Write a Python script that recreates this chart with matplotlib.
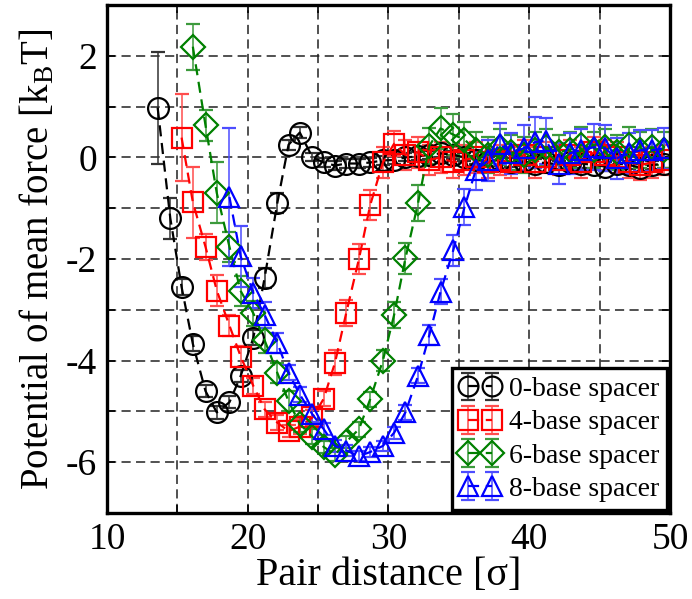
import matplotlib
matplotlib.use("Agg")
import matplotlib.pyplot as plt
from matplotlib.ticker import MultipleLocator

plt.rcParams['font.family'] = ['Liberation Serif', 'DejaVu Serif']
plt.rcParams['mathtext.fontset'] = 'custom'
plt.rcParams['mathtext.rm'] = 'Liberation Serif'
plt.rcParams['mathtext.it'] = 'Liberation Serif:italic'
plt.rcParams['axes.unicode_minus'] = False

# shared distance grid [sigma]
X = [13.6, 14.5, 15.3, 16.1, 17.0, 17.8, 18.7, 19.5, 20.4, 21.2, 22.1, 22.9,
     23.7, 24.6, 25.4, 26.2, 27.0, 27.9, 28.7, 29.6, 30.4, 31.2, 32.1, 32.9,
     33.7, 34.6, 35.4, 36.2, 37.1, 37.9, 38.7, 39.6, 40.4, 41.2, 42.1, 42.9,
     43.7, 44.6, 45.4, 46.2, 47.1, 47.9, 48.7, 49.6]

labels = ['0-base spacer', '4-base spacer', '6-base spacer', '8-base spacer']

y0 = [0.98, -1.2, -2.55, -3.67, -4.6, -5.02, -4.82, -4.3, -3.55, -2.37, -0.9, 0.25,
      0.49, 0.0, -0.1, -0.16, -0.12, -0.12, -0.1, -0.06, -0.05, 0.0, 0.02, 0.05,
      0.08, 0.05, 0.0, -0.05, -0.08, -0.05, -0.1, -0.08, -0.12, -0.1, -0.15, -0.1,
      -0.12, -0.15, -0.18, -0.12, -0.15, -0.2, -0.15, -0.12]
e0 = [1.1, 0.4, 0.15, 0.15, 0.12, 0.12, 0.12, 0.12, 0.15, 0.2, 0.2, 0.1,
      0.1, 0.08, 0.08, 0.08, 0.08, 0.08, 0.08, 0.08, 0.08, 0.08, 0.08, 0.08,
      0.08, 0.08, 0.08, 0.08, 0.08, 0.08, 0.08, 0.08, 0.08, 0.08, 0.08, 0.08,
      0.08, 0.08, 0.08, 0.08, 0.08, 0.08, 0.08, 0.08]

y4 = [0.39, -0.88, -1.76, -2.62, -3.31, -3.92, -4.5, -4.96, -5.22, -5.39, -5.3,
      -5.12, -4.75, -4.04, -3.06, -2.0, -0.94, -0.1, 0.27, 0.05, 0.1, -0.05,
      0.0, -0.1, -0.05, 0.0, -0.1, -0.05, -0.1, 0.05, -0.1, 0.0, -0.05, 0.05,
      -0.1, 0.1, 0.05, 0.0, -0.1, -0.15, -0.1, -0.05]
e4 = [0.85, 0.7, 0.25, 0.3, 0.2, 0.2, 0.15, 0.15, 0.15, 0.12, 0.15,
      0.15, 0.15, 0.25, 0.25, 0.3, 0.3, 0.3, 0.25, 0.3, 0.3, 0.3,
      0.3, 0.3, 0.3, 0.3, 0.3, 0.3, 0.3, 0.3, 0.3, 0.3, 0.3, 0.3,
      0.3, 0.3, 0.3, 0.3, 0.3, 0.3, 0.3, 0.3]

y6 = [2.18, 0.63, -0.7, -1.76, -2.63, -3.07, -3.6, -4.24, -4.8, -5.25, -5.5,
      -5.7, -5.85, -5.6, -5.35, -4.76, -4.0, -3.1, -1.99, -0.9, 0.23, 0.57,
      0.45, 0.35, 0.15, 0.05, 0.2, 0.1, 0.05, 0.15, 0.2, 0.1, 0.15, 0.25,
      0.15, 0.2, 0.1, 0.25, 0.15, 0.2, 0.15]
e6 = [0.45, 0.3, 0.6, 0.3, 0.3, 0.25, 0.25, 0.2, 0.2, 0.15, 0.15,
      0.12, 0.12, 0.12, 0.15, 0.15, 0.2, 0.25, 0.3, 0.35, 0.35, 0.4,
      0.4, 0.35, 0.35, 0.35, 0.35, 0.35, 0.35, 0.35, 0.35, 0.35, 0.35, 0.35,
      0.35, 0.35, 0.35, 0.35, 0.35, 0.35, 0.35]

y8 = [-0.78, -1.95, -2.67, -3.1, -3.65, -4.24, -4.67, -5.06, -5.35, -5.68,
      -5.77, -5.88, -5.8, -5.68, -5.42, -5.02, -4.3, -3.5, -2.64, -1.83,
      -0.98, -0.25, -0.06, 0.27, 0.08, 0.18, 0.3, 0.33, -0.12, 0.08, 0.15,
      0.2, 0.18, -0.02, 0.08, 0.14, 0.14, 0.18]
e8 = [1.35, 0.6, 0.3, 0.25, 0.2, 0.15, 0.15, 0.15, 0.12, 0.12,
      0.1, 0.1, 0.1, 0.1, 0.12, 0.15, 0.15, 0.2, 0.25, 0.3,
      0.35, 0.4, 0.4, 0.4, 0.4, 0.45, 0.5, 0.45, 0.4, 0.4, 0.4,
      0.45, 0.45, 0.4, 0.4, 0.4, 0.4, 0.4]

series = [
    (X[0:], y0, e0, 'black', 'o', '#333333'),
    (X[2:], y4, e4, 'red', 's', '#ff4d4d'),
    (X[3:], y6, e6, 'green', 'D', '#3c9a3c'),
    (X[6:], y8, e8, 'blue', '^', '#4d4dff'),
]

fig = plt.figure(figsize=(6.92, 5.99), dpi=100)
ax = fig.add_axes([0.1546, 0.1436, 0.8136, 0.848])

handles = []
for (xs, ys, es, col, mk, ecol), lab in zip(series, labels):
    ms = 15 if mk != 'D' else 12.5
    h = ax.errorbar(xs[:len(ys)], ys, yerr=es, color=col, ecolor=ecol,
                    elinewidth=1.1, capsize=5, capthick=1.1,
                    marker=mk, markersize=ms, markerfacecolor='none',
                    markeredgecolor=col, markeredgewidth=1.6,
                    linestyle=(0, (5, 3)), linewidth=1.6, label=lab)
    handles.append(h)

ax.set_xlim(10, 50)
ax.set_ylim(-7, 3)
ax.xaxis.set_major_locator(MultipleLocator(10))
ax.xaxis.set_minor_locator(MultipleLocator(5))
ax.yaxis.set_major_locator(MultipleLocator(2))
ax.yaxis.set_minor_locator(MultipleLocator(1))
ax.grid(True, which='both', color='#222222', linestyle=(0, (6, 3.5)), linewidth=1.1)
ax.set_axisbelow(True)

ax.tick_params(which='both', direction='in', top=True, right=True,
               length=6, width=1.2, labelsize=27, pad=7)
for s in ax.spines.values():
    s.set_linewidth(2.4)

ax.set_xlabel('Pair distance [σ]', fontsize=29, labelpad=0)
ax.set_ylabel(r'Potential of mean force [k$_\mathrm{B}$T]', fontsize=28, labelpad=6)

leg = ax.legend(handles=handles, labels=labels, loc='lower right', numpoints=2,
                fontsize=20, frameon=True, fancybox=False, framealpha=1,
                edgecolor='black', borderpad=0.3, labelspacing=0.28,
                handlelength=1.45, handletextpad=0.3, borderaxespad=0.1,
                markerscale=0.95)
leg.get_frame().set_linewidth(2.4)

fig.savefig('out.png', dpi=100)
